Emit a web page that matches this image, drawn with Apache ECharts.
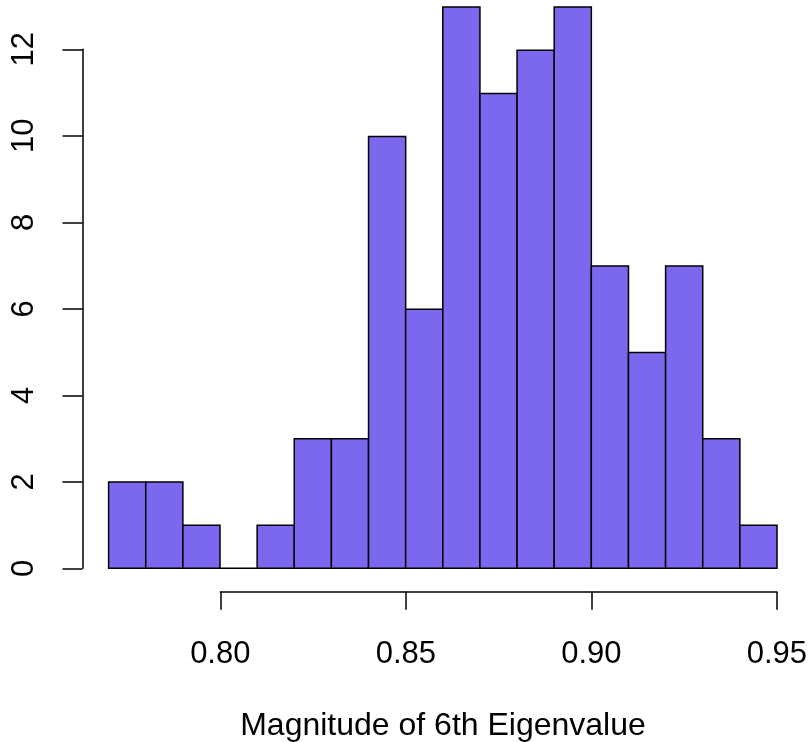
<!DOCTYPE html>
<html>
<head>
<meta charset="utf-8">
<script src="https://cdn.jsdelivr.net/npm/echarts@6/dist/echarts.min.js"></script>
<style>
  html, body { margin: 0; padding: 0; background: #ffffff; }
  #chart { width: 810px; height: 742px; }
</style>
</head>
<body>
<div id="chart"></div>
<script>
// Histogram bins (left edge, right edge) and counts
const binStarts = [0.77, 0.78, 0.79, 0.80, 0.81, 0.82, 0.83, 0.84, 0.85, 0.86, 0.87, 0.88, 0.89, 0.90, 0.91, 0.92, 0.93, 0.94];
const binWidth = 0.01;
const counts = [2, 2, 1, 0, 1, 3, 3, 10, 6, 13, 11, 12, 13, 7, 5, 7, 3, 1];
const xTickLabels = ['0.80', '0.85', '0.90', '0.95'];
const yTickLabels = [0, 2, 4, 6, 8, 10, 12];
const xTitle = 'Magnitude of 6th Eigenvalue';

const FONT = "'Liberation Sans', Arial, Helvetica, sans-serif";
const FILL = '#7B68EE';

const histData = binStarts.map((s, i) => [s, +(s + binWidth).toFixed(2), counts[i]]);

const chart = echarts.init(document.getElementById('chart'), null, { renderer: 'canvas' });

const xMin = parseFloat(xTickLabels[0]);
const xMax = parseFloat(xTickLabels[xTickLabels.length - 1]);

chart.setOption({
  backgroundColor: '#ffffff',
  animation: false,
  grid: [
    // plotting area for the bars
    { left: 108.6, right: 33, top: 7.1, bottom: 173.7 },
    // detached x axis (ticks span only the labelled range)
    { left: 220.3, right: 32.7, top: 560, bottom: 150.3 },
    // detached y axis
    { left: 82.5, width: 10, top: 49.3, bottom: 173.7 }
  ],
  xAxis: [
    { gridIndex: 0, type: 'value', min: binStarts[0], max: +(binStarts[binStarts.length - 1] + binWidth).toFixed(2),
      show: false },
    { gridIndex: 1, type: 'value', min: xMin, max: xMax, interval: 0.05, position: 'bottom',
      axisLine: { show: true, lineStyle: { color: '#000', width: 1.5 } },
      axisTick: { show: true, length: 18, inside: false, lineStyle: { color: '#000', width: 1.5 } },
      splitLine: { show: false },
      axisLabel: { margin: 47, color: '#000', fontSize: 31, fontFamily: FONT,
        formatter: v => xTickLabels.find(t => Math.abs(parseFloat(t) - v) < 1e-9) || '' } },
    { gridIndex: 2, type: 'value', show: false }
  ],
  yAxis: [
    { gridIndex: 0, type: 'value', min: 0, max: 13, show: false },
    { gridIndex: 1, type: 'value', show: false },
    { gridIndex: 2, type: 'value', min: yTickLabels[0], max: yTickLabels[yTickLabels.length - 1], interval: 2,
      position: 'left',
      axisLine: { show: true, lineStyle: { color: '#000', width: 1.5 } },
      axisTick: { show: true, length: 20, lineStyle: { color: '#000', width: 1.5 } },
      splitLine: { show: false },
      axisLabel: { rotate: 90, margin: 43, color: '#000', fontSize: 31, fontFamily: FONT } }
  ],
  graphic: [
    { type: 'text', x: 443, y: 726, z: 10,
      style: { text: xTitle, font: '32px ' + FONT, fill: '#000', textAlign: 'center', textVerticalAlign: 'middle' } }
  ],
  series: [{
    type: 'custom',
    xAxisIndex: 0,
    yAxisIndex: 0,
    data: histData,
    encode: { x: [0, 1], y: 2 },
    renderItem: (params, api) => {
      const p0 = api.coord([api.value(0), 0]);
      const p1 = api.coord([api.value(1), api.value(2)]);
      return {
        type: 'rect',
        shape: { x: p0[0], y: p1[1], width: p1[0] - p0[0], height: p0[1] - p1[1] },
        style: { fill: FILL, stroke: '#000', lineWidth: 1.5 }
      };
    }
  }]
});
</script>
</body>
</html>
